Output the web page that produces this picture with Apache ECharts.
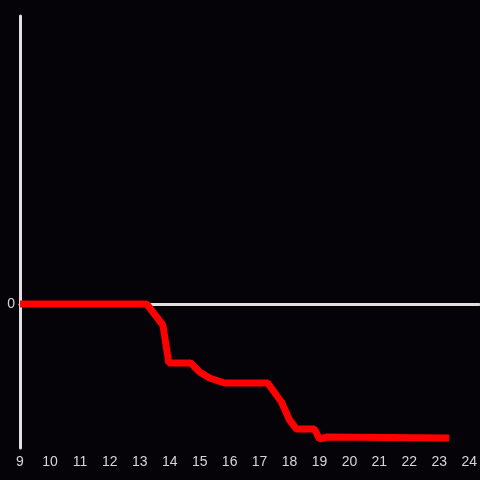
<!DOCTYPE html>
<html>
<head>
<meta charset="utf-8">
<script src="https://cdn.jsdelivr.net/npm/echarts@6/dist/echarts.min.js"></script>
<style>
html,body{margin:0;padding:0;background:#050307;}
#c{width:480px;height:480px;}
</style>
</head>
<body>
<div id="c"></div>
<script>
var hours = [9, 13.23, 13.77, 13.97, 14.7, 15.0, 15.33, 15.83, 17.27, 17.73, 18.0, 18.23, 18.83, 19.0, 19.27, 23.33];
var values = [0, 0, -21, -59, -59, -68, -74, -79, -79, -98, -116, -125, -125, -135, -133, -134];
var xTicks = [9, 10, 11, 12, 13, 14, 15, 16, 17, 18, 19, 20, 21, 22, 23, 24];
var yTicks = [0];

var data = hours.map(function (h, i) { return [h, values[i]]; });
var chart = echarts.init(document.getElementById('c'));
var labelColor = '#d6d6d6';
var axisColor = '#e0e0e0';
chart.setOption({
  backgroundColor: '#050307',
  animation: false,
  grid: { left: 20, right: 0, top: 16, bottom: 32, containLabel: false },
  xAxis: [{
    type: 'value', min: 9, max: 24.333, interval: 1,
    axisLine: { show: false, onZero: false },
    axisTick: { show: false },
    splitLine: { show: false },
    axisLabel: {
      color: labelColor, fontSize: 14, fontFamily: 'Liberation Sans, Arial, sans-serif', margin: 7,
      showMaxLabel: false,
      formatter: function (v) { return xTicks.indexOf(v) >= 0 ? String(v) : ''; }
    }
  }, {
    type: 'value', min: 9, max: 24.333, interval: 1, position: 'bottom',
    axisLine: { show: true, onZero: true, lineStyle: { color: axisColor, width: 3 } },
    axisTick: { show: false },
    splitLine: { show: false },
    axisLabel: { show: false }
  }],
  yAxis: {
    type: 'value', min: -144, max: 288, interval: 144,
    axisLine: { show: true, lineStyle: { color: axisColor, width: 3 } },
    axisTick: { show: false },
    splitLine: { show: false },
    axisLabel: {
      color: labelColor, fontSize: 14, fontFamily: 'Liberation Sans, Arial, sans-serif', margin: 5,
      showMinLabel: false, showMaxLabel: false,
      formatter: function (v) { return yTicks.indexOf(v) >= 0 ? String(v) : ''; }
    }
  },
  series: [{
    type: 'line', xAxisIndex: 0, data: data, symbol: 'none', z: 10,
    lineStyle: { color: '#ff0000', width: 7, join: 'bevel', cap: 'butt' }
  }]
});
</script>
</body>
</html>
